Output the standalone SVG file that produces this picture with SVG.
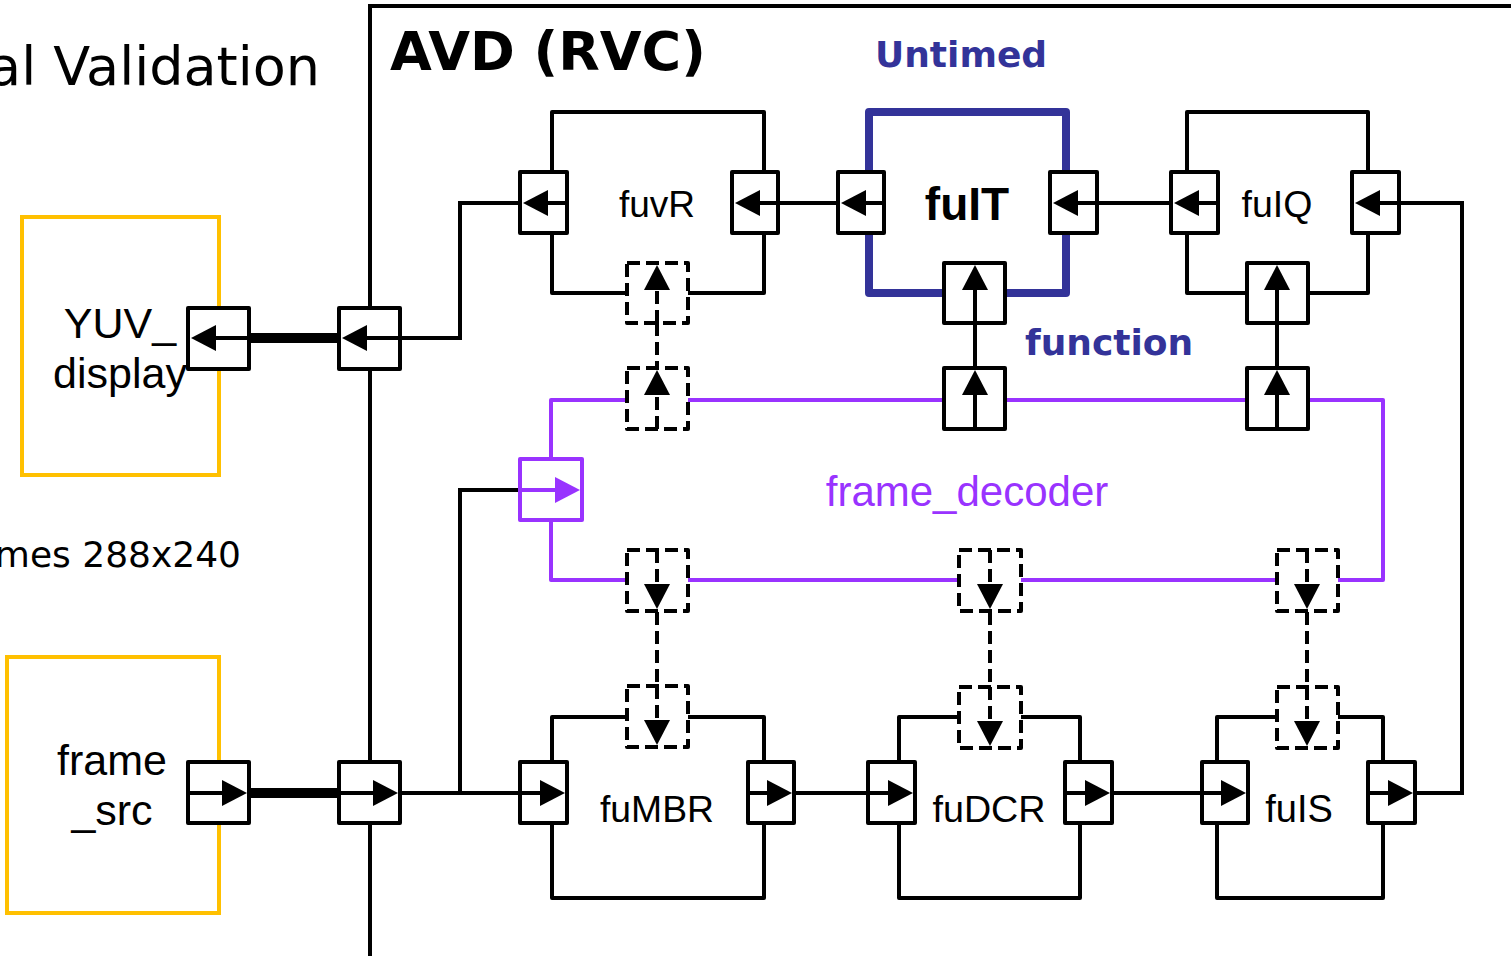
<svg xmlns="http://www.w3.org/2000/svg" width="1511" height="956" viewBox="0 0 1511 956">
<style>
.box{fill:none;stroke:#000;stroke-width:4;stroke-linejoin:round}
.port{fill:#fff;stroke:#000;stroke-width:4;stroke-linejoin:round}
.dport{fill:#fff;stroke:#000;stroke-width:4;stroke-dasharray:13 6;stroke-linejoin:round}
.ln{fill:none;stroke:#000;stroke-width:4}
.dln{fill:none;stroke:#000;stroke-width:4;stroke-dasharray:13 6}
.ah{fill:#000}
.lbl{font-family:"Liberation Sans",Arial,sans-serif;fill:#000;text-anchor:middle}
.vd{font-family:"DejaVu Sans",Verdana,sans-serif}
</style>
<rect width="1511" height="956" fill="#fff"/>

<!-- texts outside -->
<text x="320" y="85" class="vd" font-size="54" text-anchor="end">al Validation</text>
<text x="241" y="567" class="vd" font-size="36" text-anchor="end">mes 288x240</text>

<!-- AVD frame -->
<g id="avd">
<path d="M370 956 V6 H1511" class="ln"/>
<text x="390" y="70" class="vd" font-size="54" font-weight="bold">AVD (RVC)</text>
<text x="875" y="67" class="vd" font-size="36" font-weight="bold" fill="#333399">Untimed</text>
<text x="1025" y="355" class="vd" font-size="36" font-weight="bold" fill="#333399">function</text>
</g>

<!-- connectors -->
<g id="connectors">
<path d="M249 338 H339" stroke="#000" stroke-width="10" fill="none"/>
<path d="M249 793 H339" stroke="#000" stroke-width="10" fill="none"/>
<path d="M400 338 H460 V203 H520" class="ln"/>
<path d="M400 793 H520" class="ln"/>
<path d="M460 793 V490 H520" class="ln"/>
<path d="M778 203 H838" class="ln"/>
<path d="M1097 203 H1171" class="ln"/>
<path d="M1399 203 H1462 V793 H1415" class="ln"/>
<path d="M794 793 H868" class="ln"/>
<path d="M1112 793 H1202" class="ln"/>
<path d="M657 323 V368" class="dln"/>
<path d="M975 323 V368" class="ln"/>
<path d="M1277 323 V368" class="ln"/>
<path d="M657 612 V685" class="dln"/>
<path d="M990 612 V687" class="dln"/>
<path d="M1307 612 V687" class="dln"/>
</g>

<!-- YUV_display -->
<g id="yuv_display">
<rect x="22" y="217" width="197" height="258" fill="none" stroke="#FFC000" stroke-width="4"/>
<text x="120" y="338" class="lbl" font-size="43">YUV_</text>
<text x="120" y="388" class="lbl" font-size="43">display</text>
<rect x="188" y="308" width="61" height="61" class="port"/>
<path d="M249 338 H200" class="ln"/>
<polygon points="191,338 216,325 216,351" class="ah"/>
</g>

<!-- frame_src -->
<g id="frame_src">
<rect x="7" y="657" width="212" height="256" fill="none" stroke="#FFC000" stroke-width="4"/>
<text x="112" y="775" class="lbl" font-size="43">frame</text>
<text x="112" y="825" class="lbl" font-size="43">_src</text>
<rect x="188" y="762" width="61" height="61" class="port"/>
<path d="M190 793 H230" class="ln"/>
<polygon points="247,793 222,780 222,806" class="ah"/>
</g>

<!-- boundary ports -->
<g id="avd_port_out">
<rect x="339" y="308" width="61" height="61" class="port"/>
<path d="M400 338 H350" class="ln"/>
<polygon points="342,338 367,325 367,351" class="ah"/>
</g>
<g id="avd_port_in">
<rect x="339" y="762" width="61" height="61" class="port"/>
<path d="M341 793 H380" class="ln"/>
<polygon points="398,793 373,780 373,806" class="ah"/>
</g>

<!-- fuvR -->
<g id="fuvR">
<rect x="552" y="112" width="212" height="181" class="box"/>
<text x="657" y="217" class="lbl" font-size="37">fuvR</text>
<rect x="520" y="172" width="47" height="61" class="port"/>
<path d="M567 203 H530" class="ln"/><polygon points="523,203 548,190 548,216" class="ah"/>
<rect x="732" y="172" width="46" height="61" class="port"/>
<path d="M778 203 H742" class="ln"/><polygon points="735,203 760,190 760,216" class="ah"/>
<rect x="627" y="263" width="61" height="60" class="dport"/>
<path d="M657 323 V275" class="dln"/><polygon points="657,265 644,290 670,290" class="ah"/>
</g>

<!-- fuIT -->
<g id="fuIT">
<rect x="869" y="112" width="197" height="181" fill="none" stroke="#333399" stroke-width="8" stroke-linejoin="round"/>
<text x="967" y="220" class="lbl" font-size="46" font-weight="bold">fuIT</text>
<rect x="838" y="172" width="46" height="61" class="port"/>
<path d="M884 203 H848" class="ln"/><polygon points="841,203 866,190 866,216" class="ah"/>
<rect x="1050" y="172" width="47" height="61" class="port"/>
<path d="M1097 203 H1060" class="ln"/><polygon points="1053,203 1078,190 1078,216" class="ah"/>
<rect x="944" y="263" width="61" height="60" class="port"/>
<path d="M975 323 V275" class="ln"/><polygon points="975,265 962,290 988,290" class="ah"/>
</g>

<!-- fuIQ -->
<g id="fuIQ">
<rect x="1187" y="112" width="181" height="181" class="box"/>
<text x="1277" y="217" class="lbl" font-size="37.5">fuIQ</text>
<rect x="1171" y="172" width="47" height="61" class="port"/>
<path d="M1218 203 H1181" class="ln"/><polygon points="1174,203 1199,190 1199,216" class="ah"/>
<rect x="1352" y="172" width="47" height="61" class="port"/>
<path d="M1399 203 H1362" class="ln"/><polygon points="1355,203 1380,190 1380,216" class="ah"/>
<rect x="1247" y="263" width="61" height="60" class="port"/>
<path d="M1277 323 V275" class="ln"/><polygon points="1277,265 1264,290 1290,290" class="ah"/>
</g>

<!-- frame_decoder -->
<g id="frame_decoder">
<rect x="551" y="400" width="832" height="180" fill="none" stroke="#9933FF" stroke-width="4" stroke-linejoin="round"/>
<text x="967" y="506" font-family="'Liberation Sans',Arial,sans-serif" font-size="42" fill="#9933FF" text-anchor="middle">frame_decoder</text>
<rect x="627" y="368" width="61" height="61" class="dport"/>
<path d="M657 429 V380" class="dln"/><polygon points="657,370 644,395 670,395" class="ah"/>
<rect x="944" y="368" width="61" height="61" class="port"/>
<path d="M975 429 V380" class="ln"/><polygon points="975,370 962,395 988,395" class="ah"/>
<rect x="1247" y="368" width="61" height="61" class="port"/>
<path d="M1277 429 V380" class="ln"/><polygon points="1277,370 1264,395 1290,395" class="ah"/>
<rect x="520" y="459" width="62" height="61" fill="#fff" stroke="#9933FF" stroke-width="4" stroke-linejoin="round"/>
<path d="M522 490 H565" stroke="#9933FF" stroke-width="4"/><polygon points="580,490 555,477 555,503" fill="#9933FF"/>
<rect x="627" y="550" width="61" height="61" class="dport"/>
<path d="M657 550 V600" class="dln"/><polygon points="657,609 644,584 670,584" class="ah"/>
<rect x="959" y="550" width="62" height="61" class="dport"/>
<path d="M990 550 V600" class="dln"/><polygon points="990,609 977,584 1003,584" class="ah"/>
<rect x="1277" y="550" width="61" height="61" class="dport"/>
<path d="M1307 550 V600" class="dln"/><polygon points="1307,609 1294,584 1320,584" class="ah"/>
</g>

<!-- fuMBR -->
<g id="fuMBR">
<rect x="552" y="717" width="212" height="181" class="box"/>
<text x="657" y="822" class="lbl" font-size="37.3">fuMBR</text>
<rect x="627" y="686" width="61" height="61" class="dport"/>
<path d="M657 686 V735" class="dln"/><polygon points="657,745 644,720 670,720" class="ah"/>
<rect x="520" y="762" width="47" height="61" class="port"/>
<path d="M520 793 H550" class="ln"/><polygon points="565,793 540,780 540,806" class="ah"/>
<rect x="748" y="762" width="46" height="61" class="port"/>
<path d="M748 793 H778" class="ln"/><polygon points="792,793 767,780 767,806" class="ah"/>
</g>

<!-- fuDCR -->
<g id="fuDCR">
<rect x="899" y="717" width="181" height="181" class="box"/>
<text x="989" y="822" class="lbl" font-size="37.7">fuDCR</text>
<rect x="959" y="687" width="62" height="61" class="dport"/>
<path d="M990 687 V735" class="dln"/><polygon points="990,746 977,721 1003,721" class="ah"/>
<rect x="868" y="762" width="47" height="61" class="port"/>
<path d="M868 793 H898" class="ln"/><polygon points="913,793 888,780 888,806" class="ah"/>
<rect x="1065" y="762" width="47" height="61" class="port"/>
<path d="M1065 793 H1095" class="ln"/><polygon points="1110,793 1085,780 1085,806" class="ah"/>
</g>

<!-- fuIS -->
<g id="fuIS">
<rect x="1217" y="717" width="166" height="181" class="box"/>
<text x="1299" y="822" class="lbl" font-size="38">fuIS</text>
<rect x="1277" y="687" width="61" height="61" class="dport"/>
<path d="M1307 687 V735" class="dln"/><polygon points="1307,746 1294,721 1320,721" class="ah"/>
<rect x="1202" y="762" width="46" height="61" class="port"/>
<path d="M1202 793 H1232" class="ln"/><polygon points="1246,793 1221,780 1221,806" class="ah"/>
<rect x="1368" y="762" width="47" height="61" class="port"/>
<path d="M1368 793 H1398" class="ln"/><polygon points="1413,793 1388,780 1388,806" class="ah"/>
</g>
</svg>
